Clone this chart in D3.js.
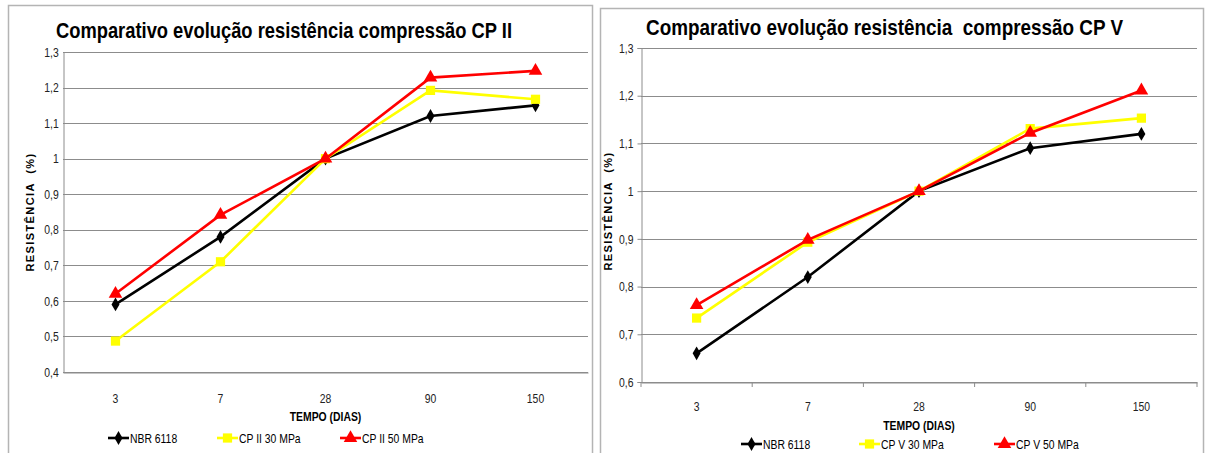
<!DOCTYPE html>
<html>
<head>
<meta charset="utf-8">
<script src="https://cdn.jsdelivr.net/npm/d3@7"></script>
<style>
  body { margin: 0; background: #fff; }
  svg text { font-family: "Liberation Sans", Arial, sans-serif; }
</style>
</head>
<body>
<svg id="chart" width="1206" height="453"></svg>
<script>
// categories (days)
const days = ['3', '7', '28', '90', '150'];

// CP II chart values
const cp2Nbr = [0.59, 0.78, 1.0, 1.12, 1.15];
const cp2_30 = [0.487, 0.71, 1.0, 1.192, 1.167];
const cp2_50 = [0.62, 0.842, 1.0, 1.228, 1.247];

// CP V chart values
const cp5Nbr = [0.66, 0.82, 1.0, 1.09, 1.12];
const cp5_30 = [0.734, 0.893, 1.0, 1.131, 1.153];
const cp5_50 = [0.761, 0.898, 1.0, 1.122, 1.211];

const cp2Ticks = [0.4, 0.5, 0.6, 0.7, 0.8, 0.9, 1, 1.1, 1.2, 1.3];
const cp5Ticks = [0.6, 0.7, 0.8, 0.9, 1, 1.1, 1.2, 1.3];

const fmt = v => String(+v.toFixed(2)).replace('.', ',');

// no narrow font installed, so squeeze text horizontally
const NARROW = 0.8;

const svg = d3.select('#chart');

function narrowText(parent, x, y, txt) {
    return parent.append('text')
        .attr('transform', `translate(${x},${y}) scale(${NARROW},1)`)
        .attr('xml:space', 'preserve')
        .text(txt);
}

function drawChart(opt) {
    const g = svg.append('g');

    // panel border
    g.append('rect')
        .attr('x', opt.panel[0] + 0.5).attr('y', opt.panel[1] + 0.5)
        .attr('width', opt.panel[2]).attr('height', opt.panel[3])
        .attr('fill', 'none').attr('stroke', '#b4b4b4').attr('stroke-width', 1.5);

    const x = d3.scaleBand().domain(days).range([opt.left, opt.right]);
    const y = d3.scaleLinear().domain(d3.extent(opt.ticks)).range([opt.bottom, opt.top]);

    // gridlines
    g.append('g')
        .selectAll('line')
        .data(opt.ticks)
        .enter()
        .append('line')
        .attr('x1', opt.left).attr('x2', opt.right)
        .attr('y1', d => Math.round(y(d)) + 0.5).attr('y2', d => Math.round(y(d)) + 0.5)
        .attr('stroke', '#8c8c8c').attr('stroke-width', 1);

    // y axis
    const yAxis = g.append('g')
        .attr('transform', `translate(${opt.left + 0.5},0)`)
        .call(d3.axisLeft(y).tickValues(opt.ticks).tickFormat(fmt).tickSize(opt.yTick).tickPadding(6));
    yAxis.select('.domain').attr('stroke', '#8c8c8c');
    yAxis.selectAll('.tick line').attr('stroke', '#8c8c8c');
    yAxis.selectAll('text')
        .attr('transform', `scale(${NARROW},1)`)
        .style('font-size', '13px').attr('fill', '#222');

    // x axis
    const xAxis = g.append('g')
        .attr('transform', `translate(0,${Math.round(opt.bottom) + 0.5})`)
        .call(d3.axisBottom(x).tickSize(0).tickPadding(opt.xPad));
    xAxis.select('.domain').attr('stroke', '#8c8c8c');
    xAxis.selectAll('text')
        .attr('transform', `scale(${NARROW},1)`)
        .style('font-size', '13px').attr('fill', '#222');

    if (opt.xTicks) {
        g.append('g')
            .selectAll('line')
            .data(d3.range(days.length + 1))
            .enter()
            .append('line')
            .attr('x1', i => opt.left + i * x.step()).attr('x2', i => opt.left + i * x.step())
            .attr('y1', opt.bottom).attr('y2', opt.bottom + 5)
            .attr('stroke', '#8c8c8c');
    }

    // axis titles
    narrowText(g, (opt.left + opt.right) / 2, opt.xTitleY, 'TEMPO (DIAS)')
        .attr('text-anchor', 'middle')
        .style('font-size', '13px').style('font-weight', 'bold');

    g.append('text')
        .attr('transform', `translate(${opt.yTitleX},${opt.yTitleY}) rotate(-90)`)
        .attr('text-anchor', 'middle')
        .style('font-size', '11px').style('font-weight', 'bold')
        .style('letter-spacing', '1.4px')
        .attr('xml:space', 'preserve')
        .text('RESISTÊNCIA  (%)');

    // title
    g.append('text')
        .attr('x', opt.titleX).attr('y', opt.titleY)
        .attr('textLength', opt.titleW).attr('lengthAdjust', 'spacingAndGlyphs')
        .style('font-size', '22px').style('font-weight', 'bold')
        .attr('xml:space', 'preserve')
        .text(opt.title);

    const line = d3.line()
        .x((d, i) => x(days[i]) + x.bandwidth() / 2)
        .y(d => y(d));

    opt.series.forEach(s => {
        g.append('path')
            .datum(s.values)
            .attr('fill', 'none')
            .attr('stroke', s.color)
            .attr('stroke-width', 2.6)
            .attr('d', line);

        g.append('g')
            .selectAll('path')
            .data(s.values)
            .enter()
            .append('path')
            .attr('transform', (d, i) => `translate(${x(days[i]) + x.bandwidth() / 2},${y(d)})`)
            .attr('d', d3.symbol().type(s.symbol).size(s.size))
            .attr('fill', s.color);
    });

    // legend
    const legend = g.append('g');
    opt.series.forEach((s, i) => {
        const row = legend.append('g').attr('transform', `translate(${opt.legendX[i]},${opt.legendY})`);
        row.append('line')
            .attr('x1', 0).attr('x2', 21)
            .attr('stroke', s.color).attr('stroke-width', 2.6);
        row.append('path')
            .attr('transform', 'translate(10.5,0)')
            .attr('d', d3.symbol().type(s.symbol).size(s.size))
            .attr('fill', s.color);
        narrowText(row, 22, 4.5, s.name)
            .style('font-size', '13px');
    });
}

drawChart({
    panel: [8, 5, 584, 450],
    left: 63, right: 588, top: 52, bottom: 372,
    ticks: cp2Ticks, yTick: 0, xTicks: false, xPad: 21,
    title: 'Comparativo evolução resistência compressão CP II',
    titleX: 56, titleY: 38, titleW: 456,
    xTitleY: 421, yTitleX: 34, yTitleY: 212,
    legendX: [108, 217, 340], legendY: 438,
    series: [
        { name: 'NBR 6118', values: cp2Nbr, color: '#000000', symbol: d3.symbolDiamond, size: 55 },
        { name: 'CP II 30 MPa', values: cp2_30, color: '#ffff00', symbol: d3.symbolSquare, size: 85 },
        { name: 'CP II 50 MPa', values: cp2_50, color: '#ff0000', symbol: d3.symbolTriangle, size: 80 }
    ]
});

drawChart({
    panel: [600, 8, 603, 450],
    left: 641, right: 1197, top: 48, bottom: 382,
    ticks: cp5Ticks, yTick: 4, xTicks: true, xPad: 19,
    title: 'Comparativo evolução resistência  compressão CP V',
    titleX: 646, titleY: 35, titleW: 477,
    xTitleY: 430, yTitleX: 612, yTitleY: 211,
    legendX: [741, 859, 994], legendY: 444,
    series: [
        { name: 'NBR 6118', values: cp5Nbr, color: '#000000', symbol: d3.symbolDiamond, size: 55 },
        { name: 'CP V 30 MPa', values: cp5_30, color: '#ffff00', symbol: d3.symbolSquare, size: 85 },
        { name: 'CP V 50 MPa', values: cp5_50, color: '#ff0000', symbol: d3.symbolTriangle, size: 80 }
    ]
});
</script>
</body>
</html>
